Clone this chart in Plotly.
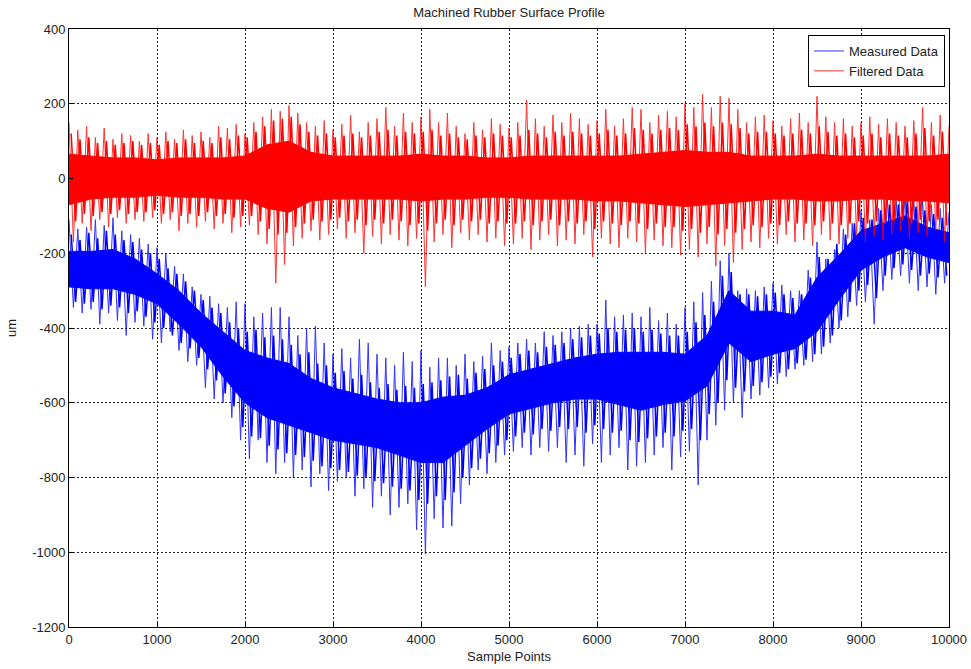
import plotly.graph_objects as go

# ---------------- data ----------------
# Solid core band edges, every 250 samples (0..10000)
core_step = 250
measured_core_hi = [-195, -195, -190, -215, -255, -300, -360, -410, -460, -480, -495,
                    -535, -560, -575, -590, -600, -600, -585, -580, -560, -525, -510,
                    -495, -480, -470, -465, -465, -465, -470, -420, -300, -355, -355,
                    -365, -265, -205, -140, -120, -100, -130, -145]
measured_core_lo = [-290, -295, -295, -310, -335, -390, -450, -530, -600, -640, -660,
                    -680, -700, -710, -720, -740, -760, -760, -715, -670, -630, -615,
                    -600, -590, -590, -605, -620, -605, -595, -555, -440, -490, -470,
                    -455, -410, -325, -245, -210, -185, -210, -225]
filtered_core_hi = [65, 60, 55, 55, 50, 55, 55, 55, 60, 90, 100, 70, 60, 60, 60, 60, 65,
                    60, 60, 55, 55, 60, 60, 60, 60, 60, 65, 70, 75, 70, 70, 60, 60, 60,
                    65, 60, 60, 60, 60, 60, 65]
filtered_core_lo = [-70, -55, -50, -50, -45, -50, -50, -55, -55, -80, -90, -60, -55, -55,
                    -55, -55, -60, -55, -55, -50, -50, -55, -55, -55, -60, -60, -65, -70,
                    -75, -70, -65, -60, -55, -55, -60, -60, -55, -55, -60, -60, -65]

# Outer spike tips: tops at 0,100,...,10000 ; bottoms at 50,150,...,9950
spike_step = 100
measured_top = [-110, -135, -130, -110, -125, -105, -140, -150, -160, -175,
                -185, -200, -235, -255, -290, -310, -315, -335, -345, -330,
                -335, -370, -360, -345, -345, -370, -420, -400, -395, -440,
                -470, -455, -480, -430, -440, -470, -480, -500, -465, -490,
                -460, -505, -480, -480, -500, -470, -490, -475, -440, -460,
                -450, -440, -430, -440, -410, -420, -410, -400, -395, -390,
                -390, -325, -370, -365, -360, -370, -345, -380, -360, -390,
                -345, -330, -305, -275, -220, -200, -300, -295, -300, -290,
                -280, -285, -300, -300, -245, -170, -215, -190, -135, -120,
                -85, -110, -80, -55, -60, -40, -55, -60, -70, -80, -90]
measured_bot = [-345, -360, -350, -390, -360, -380, -420, -385, -395, -430,
                -440, -410, -460, -490, -500, -560, -590, -600, -640, -700,
                -750, -700, -760, -790, -760, -800, -780, -825, -790, -835,
                -810, -800, -850, -830, -880, -850, -900, -880, -870, -940,
                -1005, -910, -935, -930, -870, -820, -780, -790, -760, -740,
                -730, -720, -740, -720, -730, -720, -760, -740, -770, -710,
                -760, -740, -720, -780, -770, -760, -740, -720, -780, -745,
                -730, -820, -700, -660, -620, -600, -640, -590, -580, -560,
                -550, -530, -510, -500, -490, -470, -440, -400, -370, -340,
                -330, -390, -300, -270, -260, -280, -300, -290, -310, -280]
filtered_top = [150, 130, 140, 110, 135, 105, 120, 115, 100, 120,
                110, 125, 105, 130, 115, 125, 110, 140, 135, 145,
                120, 150, 165, 185, 180, 195, 175, 150, 140, 155,
                130, 145, 170, 125, 150, 160, 190, 140, 175, 150,
                165, 185, 150, 175, 140, 120, 150, 130, 160, 145,
                135, 150, 210, 160, 140, 170, 150, 175, 160, 145,
                155, 185, 140, 160, 190, 185, 150, 170, 180, 165,
                200, 190, 225, 190, 220, 215, 185, 150, 165, 170,
                155, 140, 160, 175, 150, 220, 165, 150, 160, 140,
                150, 165, 145, 160, 150, 140, 155, 190, 150, 170, 140]
filtered_bot = [-170, -120, -140, -110, -130, -105, -120, -110, -115, -105,
                -120, -110, -140, -120, -130, -115, -135, -120, -145, -130,
                -125, -150, -175, -280, -230, -180, -160, -140, -165, -150,
                -135, -160, -145, -200, -155, -175, -150, -165, -180, -160,
                -290, -170, -150, -185, -145, -165, -150, -170, -160, -180,
                -175, -160, -190, -165, -150, -180, -165, -175, -150, -210,
                -160, -175, -185, -160, -170, -200, -165, -180, -185, -205,
                -190, -210, -175, -235, -180, -225, -190, -170, -185, -160,
                -175, -150, -170, -165, -180, -150, -165, -175, -160, -150,
                -170, -155, -165, -150, -140, -160, -145, -155, -140, -170]

# Inner fringe tips: tops at 25,125,...,9925 ; bottoms at 75,175,...,9975
measured_inner_top = [-150, -165, -145, -160, -140, -150, -165, -170, -190, -200,
                      -215, -240, -255, -275, -300, -325, -345, -360, -385, -400,
                      -410, -405, -425, -420, -430, -445, -470, -465, -495, -500,
                      -520, -515, -535, -525, -545, -560, -550, -565, -555, -560,
                      -550, -545, -540, -530, -525, -535, -520, -510, -500, -490,
                      -480, -470, -460, -465, -450, -445, -440, -430, -425, -420,
                      -415, -400, -410, -405, -400, -410, -405, -415, -420, -420,
                      -410, -385, -365, -330, -260, -250, -310, -310, -315, -310,
                      -305, -310, -320, -310, -265, -210, -215, -175, -150, -120,
                      -105, -110, -85, -70, -70, -60, -75, -85, -95, -105]
measured_inner_bot = [-330, -335, -330, -350, -340, -345, -360, -355, -370, -385,
                      -400, -420, -440, -455, -480, -510, -540, -575, -610, -665,
                      -690, -695, -715, -725, -735, -740, -745, -755, -770, -775,
                      -780, -785, -795, -800, -810, -815, -825, -830, -835, -860,
                      -870, -850, -860, -840, -800, -775, -750, -735, -715, -700,
                      -690, -680, -685, -670, -675, -665, -670, -665, -680, -660,
                      -670, -680, -675, -700, -705, -695, -690, -680, -690, -675,
                      -670, -700, -630, -600, -540, -560, -570, -555, -545, -530,
                      -520, -510, -495, -485, -470, -450, -420, -380, -330, -300,
                      -285, -320, -260, -240, -230, -245, -260, -255, -265, -260]
filtered_inner_top = [120, 105, 110, 95, 100, 90, 95, 100, 90, 95,
                      90, 100, 95, 105, 95, 100, 95, 110, 105, 115,
                      110, 125, 140, 155, 160, 165, 145, 125, 115, 120,
                      110, 115, 120, 110, 115, 125, 130, 115, 125, 120,
                      125, 130, 115, 120, 110, 105, 115, 110, 120, 115,
                      110, 115, 130, 120, 110, 125, 115, 125, 120, 115,
                      120, 130, 115, 120, 135, 130, 120, 130, 135, 130,
                      145, 140, 150, 140, 150, 145, 135, 120, 125, 125,
                      120, 115, 120, 130, 120, 140, 125, 115, 120, 110,
                      115, 120, 110, 120, 115, 110, 120, 135, 115, 125]
filtered_inner_bot = [-115, -95, -100, -90, -95, -85, -95, -90, -90, -85,
                      -95, -90, -100, -95, -100, -90, -100, -95, -105, -100,
                      -100, -115, -135, -150, -145, -130, -120, -110, -115, -110,
                      -105, -115, -110, -125, -110, -120, -110, -115, -125, -120,
                      -140, -120, -110, -125, -110, -115, -110, -120, -115, -120,
                      -120, -115, -125, -115, -110, -125, -115, -120, -115, -135,
                      -115, -120, -125, -115, -120, -135, -120, -130, -130, -140,
                      -135, -145, -130, -150, -135, -145, -135, -125, -130, -120,
                      -125, -115, -120, -120, -125, -115, -120, -125, -120, -115,
                      -120, -115, -120, -115, -110, -120, -110, -115, -110, -125]

x_ticks = [0, 1000, 2000, 3000, 4000, 5000, 6000, 7000, 8000, 9000, 10000]
y_ticks = [-1200, -1000, -800, -600, -400, -200, 0, 200, 400]

BLUE = "#0000ff"
RED = "#ff0000"
FONT = "Liberation Sans, Arial, sans-serif"


def core_polygon(hi, lo):
    xs = [i * core_step for i in range(len(hi))]
    return xs + xs[::-1], hi + lo[::-1]


def zigzag(top, top_off, bot, bot_off):
    pts = [(i * spike_step + top_off, v) for i, v in enumerate(top)]
    pts += [(i * spike_step + bot_off, v) for i, v in enumerate(bot)]
    pts.sort(key=lambda p: p[0])
    return [p[0] for p in pts], [p[1] for p in pts]


fig = go.Figure()

series = [
    ("Measured Data", BLUE, measured_core_hi, measured_core_lo,
     measured_inner_top, measured_inner_bot, measured_top, measured_bot),
    ("Filtered Data", RED, filtered_core_hi, filtered_core_lo,
     filtered_inner_top, filtered_inner_bot, filtered_top, filtered_bot),
]

for name, color, hi, lo, itop, ibot, top, bot in series:
    px, py = core_polygon(hi, lo)
    fig.add_trace(go.Scatter(x=px, y=py, mode="lines", fill="toself",
                             fillcolor=color, line=dict(color=color, width=1),
                             showlegend=False, hoverinfo="skip"))
    ix, iy = zigzag(itop, 25, ibot, 75)
    fig.add_trace(go.Scatter(x=ix, y=iy, mode="lines", showlegend=False,
                             line=dict(color=color, width=1.5), hoverinfo="skip"))
    zx, zy = zigzag(top, 0, bot, 50)
    fig.add_trace(go.Scatter(x=zx, y=zy, mode="lines", name=name, opacity=0.8,
                             line=dict(color=color, width=1)))

axis_common = dict(
    showgrid=True, gridcolor="#222222", griddash="2px,2px", gridwidth=1,
    showline=True, linecolor="#000000", linewidth=1, mirror=True,
    ticks="inside", ticklen=4, tickcolor="#000000",
    zeroline=False, tickfont=dict(family=FONT, size=13, color="#222222"),
)

fig.update_layout(
    width=971, height=669,
    paper_bgcolor="white", plot_bgcolor="white",
    margin=dict(l=69, r=22, t=29, b=42, autoexpand=False),
    title=dict(text="Machined Rubber Surface Profile", x=0.5, xanchor="center",
               xref="paper", yref="container", y=1 - 12 / 669, yanchor="middle",
               font=dict(family=FONT, size=13, color="#222222")),
    xaxis=dict(range=[0, 10000], tickvals=x_ticks, ticktext=[str(v) for v in x_ticks],
               title=dict(text="Sample Points", standoff=6,
                          font=dict(family=FONT, size=13, color="#222222")),
               **axis_common),
    yaxis=dict(range=[-1200, 400], tickvals=y_ticks, ticktext=[str(v) for v in y_ticks],
               title=dict(text="um", standoff=12,
                          font=dict(family=FONT, size=13, color="#222222")),
               **axis_common),
    legend=dict(x=1 - 4 / 880, y=1 - 6 / 598, xanchor="right", yanchor="top",
                bgcolor="white", bordercolor="#000000", borderwidth=1,
                font=dict(family=FONT, size=13, color="#222222"),
                tracegroupgap=0, itemwidth=30),
    showlegend=True,
)

fig.write_html("out.html", config={"displayModeBar": False},
               post_script="document.body.style.margin='0px';"
                           "document.documentElement.style.overflow='hidden';")
